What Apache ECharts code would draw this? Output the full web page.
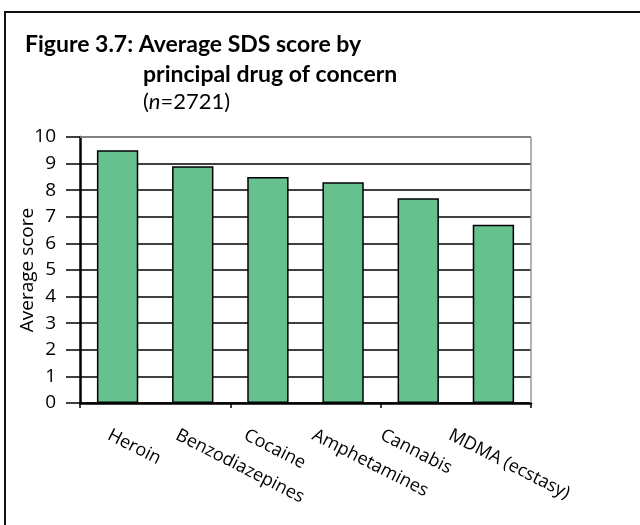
<!DOCTYPE html>
<html>
<head>
<meta charset="utf-8">
<script src="https://cdn.jsdelivr.net/npm/echarts@6/dist/echarts.min.js"></script>
<style>html,body{margin:0;padding:0;background:#fff}#c{width:640px;height:525px}</style>
</head>
<body>
<div id="c"></div>
<script>
const categories = ['Heroin', 'Benzodiazepines', 'Cocaine', 'Amphetamines', 'Cannabis', 'MDMA (ecstasy)'];
const scores = [9.5, 8.9, 8.5, 8.3, 7.7, 6.7];
const yTicks = [0, 1, 2, 3, 4, 5, 6, 7, 8, 9, 10];

const FONT = '"Open Sans", "Noto Sans", sans-serif';
const TFONT = 'Lato, "Open Sans", sans-serif';
const chart = echarts.init(document.getElementById('c'), null, {renderer: 'canvas'});
chart.setOption({
  animation: false,
  backgroundColor: '#fff',
  graphic: [
    {type: 'polyline', shape: {points: [[5, 526], [5, 12], [641, 12]]}, style: {stroke: '#111', lineWidth: 2, fill: null}, z: 0},
    {type: 'text', left: 25, top: 33, style: {text: 'Figure 3.7: Average SDS score by', font: 'bold 23px ' + TFONT, fill: '#000'}},
    {type: 'text', left: 143, top: 63, style: {text: 'principal drug of concern', font: 'bold 23px ' + TFONT, fill: '#000'}},
    {type: 'text', left: 143, top: 91, style: {
      text: '({i|n}=2721)', font: '22px ' + TFONT, fill: '#000',
      rich: {i: {fontStyle: 'italic', fontSize: 22, fontFamily: TFONT}}
    }},
    {type: 'line', shape: {x1: 80, y1: 137, x2: 531, y2: 137}, style: {stroke: '#999', lineWidth: 1.5}, z: 5},
    {type: 'line', shape: {x1: 531, y1: 137, x2: 531, y2: 403}, style: {stroke: '#999', lineWidth: 1.5}, z: 5}
  ],
  grid: [
    {left: 80, right: 109, top: 137, bottom: 122, containLabel: false},
    {left: 96, right: 134.8, top: 137, bottom: 122, containLabel: false}
  ],
  xAxis: [{
    type: 'category',
    gridIndex: 0,
    data: categories,
    axisLine: {lineStyle: {color: '#000', width: 2.5}},
    axisTick: {show: true, alignWithLabel: false, length: 5, lineStyle: {color: '#000', width: 1.5}},
    axisLabel: {show: false},
    splitLine: {show: false}
  }, {
    type: 'category',
    gridIndex: 1,
    data: categories,
    axisLine: {show: false},
    axisTick: {show: false},
    axisLabel: {rotate: -27, margin: 42, color: '#000', fontSize: 18, fontFamily: FONT, interval: 0,
      padding: [0, 0, 0, -24]},
    splitLine: {show: false}
  }],
  yAxis: [{
    type: 'value',
    gridIndex: 0,
    min: 0, max: 10, interval: 1,
    name: 'Average score',
    nameLocation: 'middle',
    nameGap: 43,
    nameMoveOverlap: false,
    nameTextStyle: {color: '#000', fontSize: 19, fontFamily: FONT},
    axisLine: {show: true, lineStyle: {color: '#000', width: 2.5}},
    axisTick: {show: true, inside: false, length: 14, lineStyle: {color: '#000', width: 1.5}},
    axisLabel: {color: '#000', fontSize: 19, fontFamily: FONT, margin: 24,
      formatter: v => yTicks.includes(v) ? String(v) : ''},
    splitLine: {show: true, lineStyle: {color: '#000', width: 1.5}}
  }, {
    type: 'value',
    gridIndex: 1,
    min: 0, max: 10, interval: 1,
    show: false
  }],
  series: [{
    type: 'bar',
    xAxisIndex: 0,
    yAxisIndex: 0,
    data: scores,
    barWidth: '55%',
    itemStyle: {color: '#66C18E', borderColor: '#000', borderWidth: 1.5},
    z: 3
  }]
});
</script>
</body>
</html>
